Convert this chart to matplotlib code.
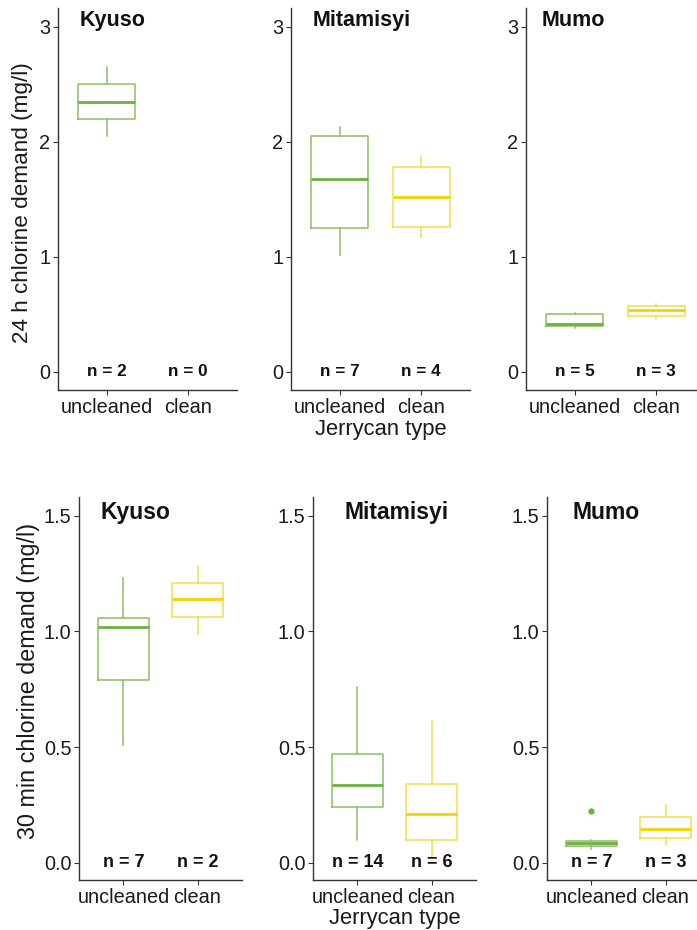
import numpy as np
import matplotlib
matplotlib.use("Agg")
import matplotlib.pyplot as plt

plt.rcParams['font.family'] = ['Liberation Sans', 'DejaVu Sans']

sites = ["Kyuso", "Mitamisyi", "Mumo"]
types = ["uncleaned", "clean"]

# 24 h chlorine demand: [whislo, q1, med, q3, whishi] per site, per type (None = no data)
h24_uncleaned = [[2.05, 2.20, 2.35, 2.50, 2.65],
                 [1.02, 1.25, 1.68, 2.05, 2.13],
                 [0.38, 0.40, 0.42, 0.50, 0.51]]
h24_clean = [None,
             [1.17, 1.26, 1.52, 1.78, 1.88],
             [0.46, 0.49, 0.54, 0.57, 0.59]]
h24_n = [[2, 0], [7, 4], [5, 3]]

# 30 min chlorine demand
m30_uncleaned = [[0.51, 0.79, 1.02, 1.057, 1.23],
                 [0.10, 0.24, 0.336, 0.47, 0.76],
                 [0.058, 0.072, 0.084, 0.095, 0.098]]
m30_clean = [[0.99, 1.062, 1.139, 1.208, 1.277],
             [0.026, 0.097, 0.212, 0.339, 0.613],
             [0.076, 0.105, 0.144, 0.196, 0.249]]
m30_outliers = [[[], []], [[], []], [[0.223], []]]
m30_n = [[7, 2], [14, 6], [7, 3]]

green_edge = "#8cc063"
green_med = "#6ab23e"
yellow_edge = "#efe04a"
yellow_med = "#f2d400"

W, H = 697, 930
fig = plt.figure(figsize=(W / 100, H / 100), dpi=100)


def px_axes(left, right, top, bottom):
    return fig.add_axes([left / W, 1 - bottom / H, (right - left) / W, (bottom - top) / H])


def draw_panel(ax, unc, cln, n, outl, ylim, yticks, yticklabels, title, title_x, title_y,
               nsize, tsize):
    for i, (st, ec, mc) in enumerate([(unc, green_edge, green_med), (cln, yellow_edge, yellow_med)]):
        if st is not None:
            stats = [dict(whislo=st[0], q1=st[1], med=st[2], q3=st[3], whishi=st[4], fliers=outl[i])]
            ax.bxp(stats, positions=[i + 1], widths=0.7, showcaps=False, patch_artist=False,
                   boxprops=dict(color=ec, linewidth=1.1),
                   whiskerprops=dict(color=ec, linewidth=1.1),
                   medianprops=dict(color=mc, linewidth=2.0),
                   flierprops=dict(marker="o", markersize=3.5, markerfacecolor=mc,
                                   markeredgecolor=mc))
        ax.text(i + 1, 0, "n = %d" % n[i], ha="center", va="center",
                fontsize=nsize, fontweight="bold", color="#111111")
    ax.set_xlim(0.4, 2.6)
    ax.set_ylim(*ylim)
    ax.set_xticks([1, 2])
    ax.set_xticklabels(types, fontsize=14.3, color="#1a1a1a")
    ax.set_yticks(yticks)
    ax.set_yticklabels(yticklabels, fontsize=14.3, color="#1a1a1a")
    for s in ["top", "right"]:
        ax.spines[s].set_visible(False)
    for s in ["left", "bottom"]:
        ax.spines[s].set_color("#333333")
        ax.spines[s].set_linewidth(1.0)
    ax.tick_params(length=3.5, width=0.8, color="#333333", pad=2)
    ax.text(title_x, title_y, title, ha="left", va="center", fontsize=tsize,
            fontweight="bold", color="#111111")
    ax.set_facecolor("none")


# top row: 24 h
top_lefts = [58, 291, 526]
top_title_off = [22, 22, 16]
for k in range(3):
    ax = px_axes(top_lefts[k], top_lefts[k] + 179, 8, 390)
    tx = 0.4 + top_title_off[k] / 179 * 2.2
    draw_panel(ax, h24_uncleaned[k], h24_clean[k], h24_n[k], [[], []],
               (-0.157, 3.165), [0, 1, 2, 3], ["0", "1", "2", "3"], sites[k], tx, 3.06,
               12.3, 15.5)
    if k == 0:
        ax.set_ylabel("24 h chlorine demand (mg/l)", fontsize=16.2, color="#1a1a1a")
        ax.yaxis.set_label_coords(-0.14, 0.49)
    if k == 1:
        ax.set_xlabel("Jerrycan type", fontsize=15.8, color="#1a1a1a", labelpad=2)

# bottom row: 30 min
bot_lefts = [79, 313, 547]
bot_title_off = [21, 32, 26]
for k in range(3):
    ax = px_axes(bot_lefts[k], bot_lefts[k] + 163, 497, 880)
    tx = 0.4 + bot_title_off[k] / 163 * 2.2
    draw_panel(ax, m30_uncleaned[k], m30_clean[k], m30_n[k], m30_outliers[k],
               (-0.075, 1.581), [0, 0.5, 1.0, 1.5], ["0.0", "0.5", "1.0", "1.5"], sites[k],
               tx, 1.516, 13, 16.5)
    if k == 0:
        ax.set_ylabel("30 min chlorine demand (mg/l)", fontsize=16.8, color="#1a1a1a")
        ax.yaxis.set_label_coords(-0.239, 0.52)
    if k == 1:
        ax.set_xlabel("Jerrycan type", fontsize=15.8, color="#1a1a1a", labelpad=1)

fig.savefig("out.png", dpi=100, facecolor="white")
